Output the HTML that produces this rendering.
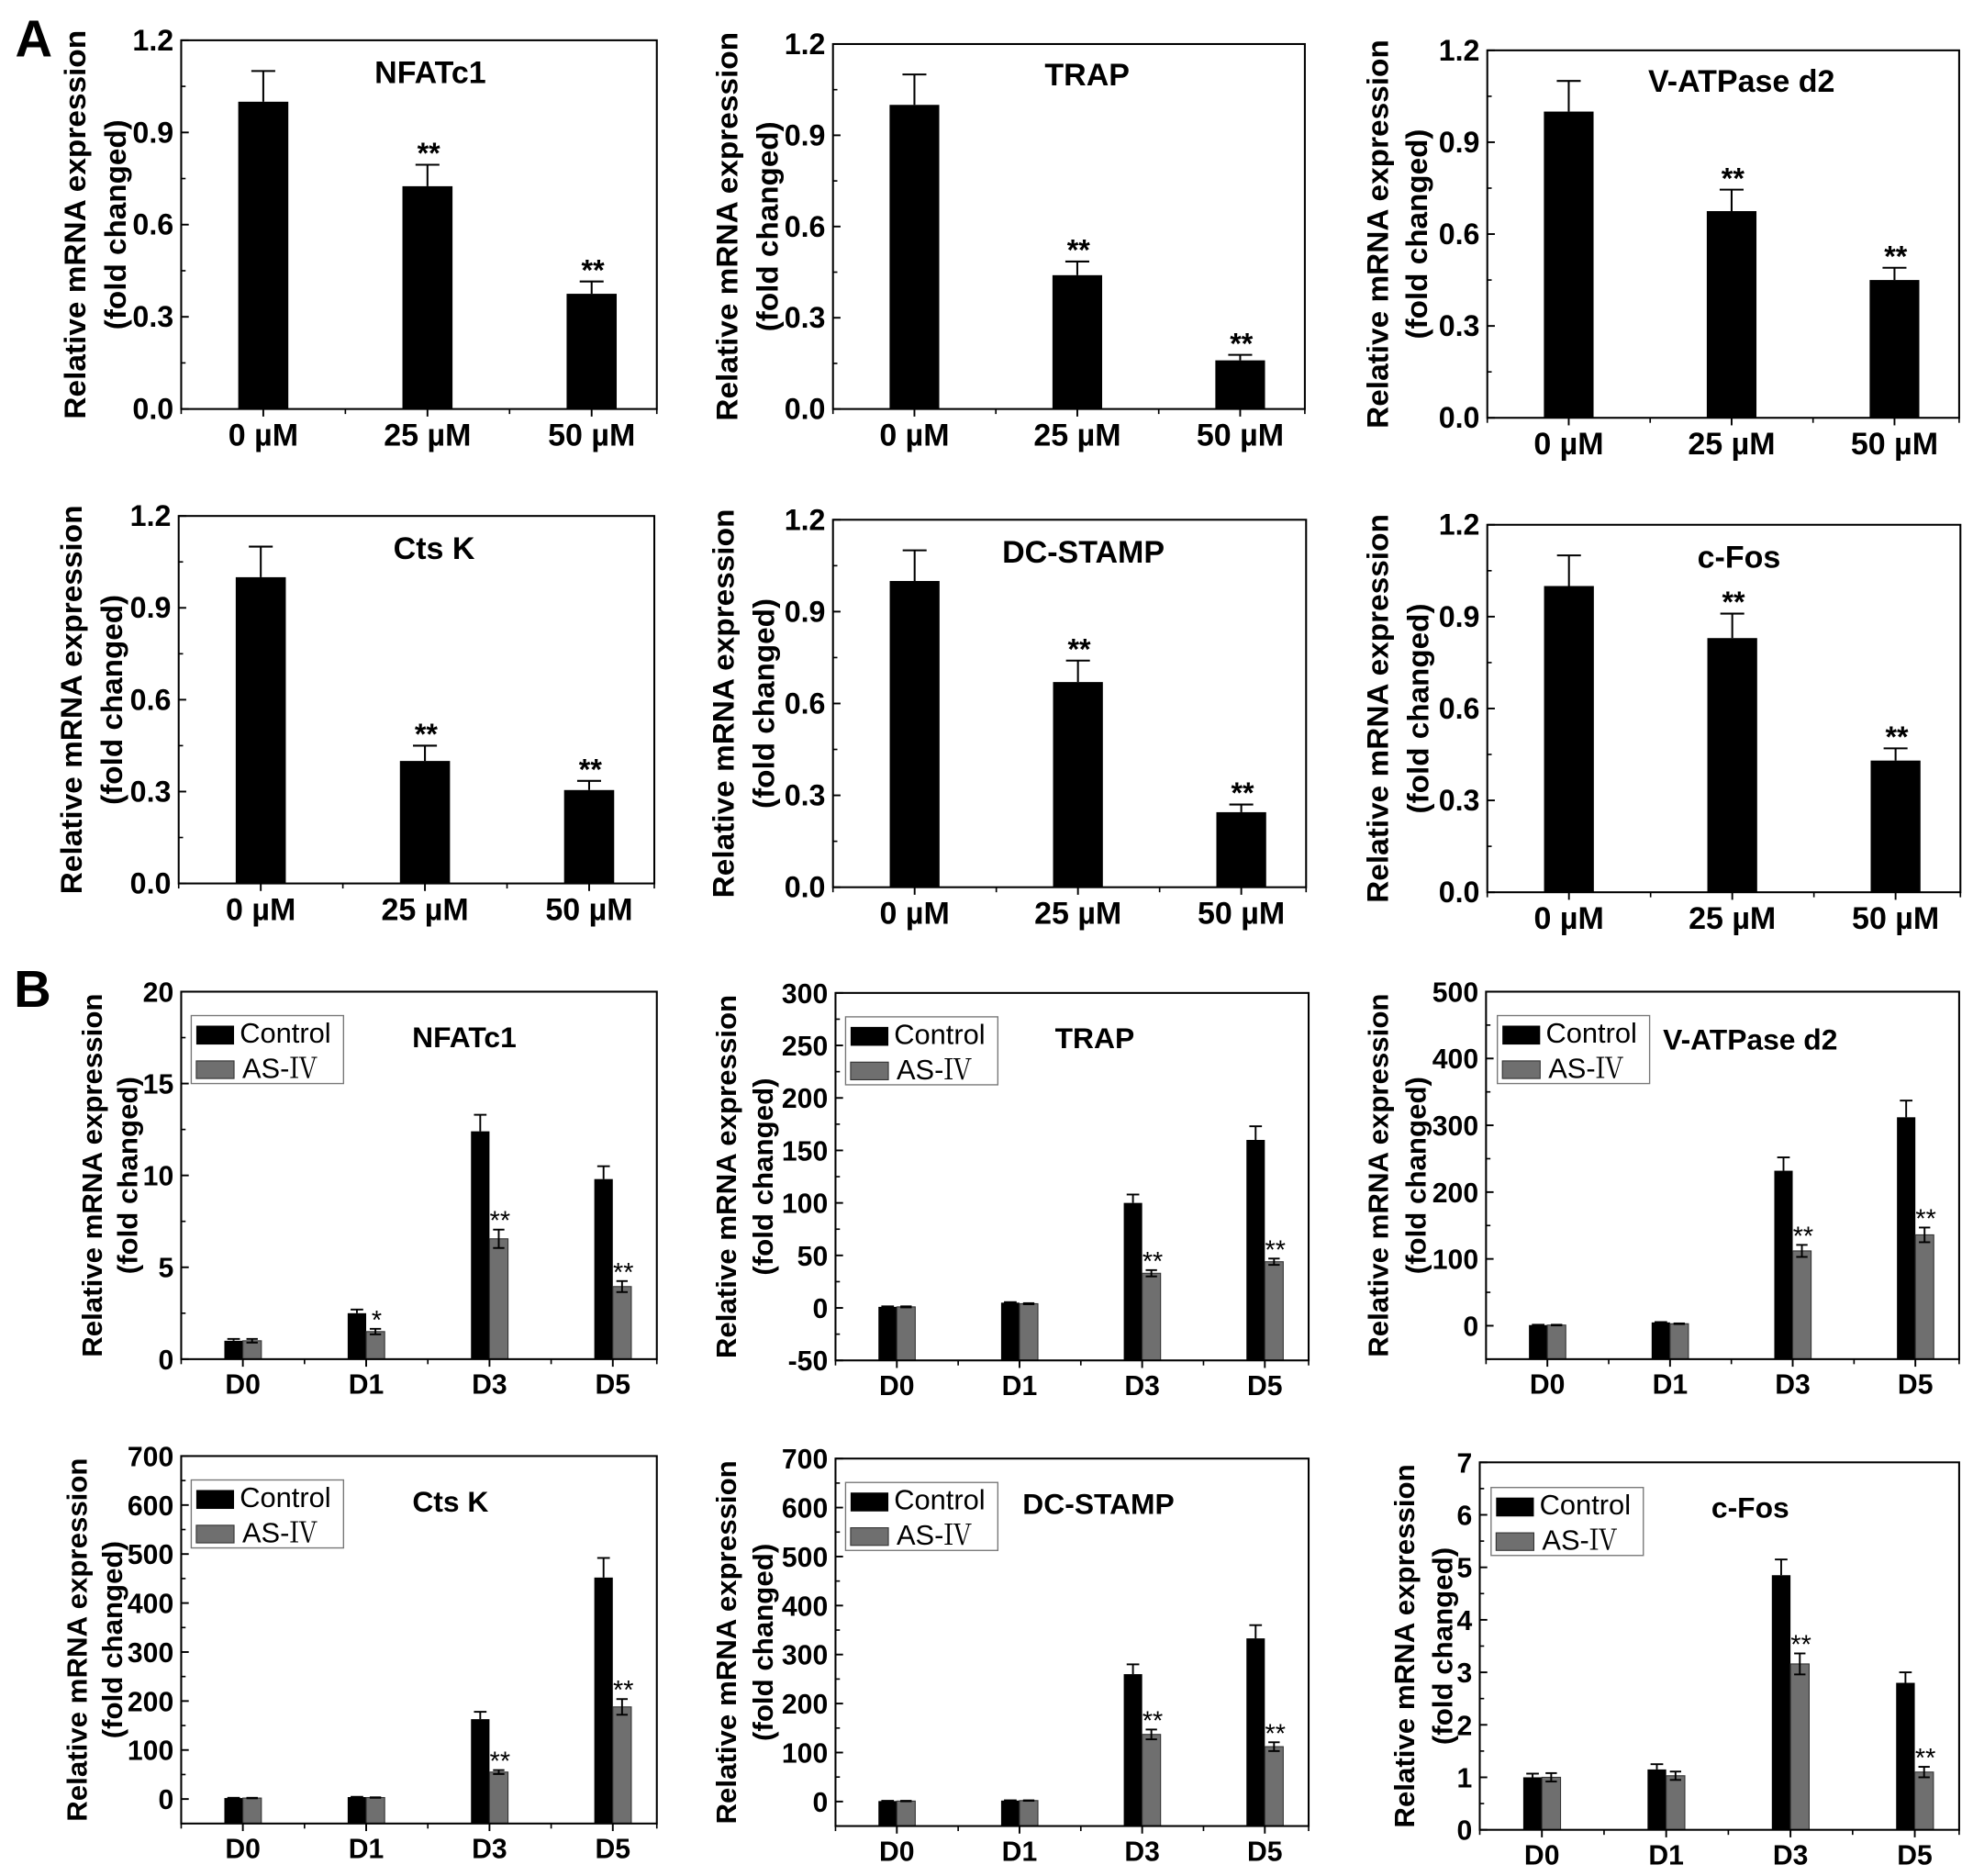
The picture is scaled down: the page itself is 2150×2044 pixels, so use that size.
<!DOCTYPE html>
<html lang="en">
<head>
<meta charset="utf-8">
<title>Relative mRNA expression panels</title>
<style>
html,body{margin:0;padding:0;background:#fff;}
svg{display:block;}
text{font-family:"Liberation Sans","Noto Serif CJK SC",sans-serif;fill:#000;}
</style>
</head>
<body>
<svg id="figure" xmlns="http://www.w3.org/2000/svg" width="2150" height="2044" viewBox="0 0 1568 1490.7"></svg>
<script>
// ---------- categories and axis labels ----------
const doseCategories = ['0 µM', '25 µM', '50 µM'];
const dayCategories = ['D0', 'D1', 'D3', 'D5'];
const doseTicks = [0, 0.3, 0.6, 0.9, 1.2];
const doseTickLabels = ['0.0', '0.3', '0.6', '0.9', '1.2'];
const b1Ticks = [0, 5, 10, 15, 20];
const b2Ticks = [-50, 0, 50, 100, 150, 200, 250, 300];
const b3Ticks = [0, 100, 200, 300, 400, 500];
const b4Ticks = [0, 100, 200, 300, 400, 500, 600, 700];
const b6Ticks = [0, 1, 2, 3, 4, 5, 6, 7];

// ---------- panel A values (dose response) ----------
const a1Values = [1.0, 0.725, 0.375];
const a1Errors = [0.1, 0.07, 0.04];
const a2Values = [1.0, 0.44, 0.16];
const a2Errors = [0.1, 0.045, 0.018];
const a3Values = [1.0, 0.675, 0.45];
const a3Errors = [0.1, 0.07, 0.04];
const a4Values = [1.0, 0.4, 0.305];
const a4Errors = [0.1, 0.05, 0.03];
const a5Values = [1.0, 0.67, 0.245];
const a5Errors = [0.1, 0.07, 0.025];
const a6Values = [1.0, 0.83, 0.43];
const a6Errors = [0.1, 0.08, 0.04];
const doseStars = ['', '**', '**'];

// ---------- panel B values (time course) ----------
const b1Control = [1.0, 2.5, 12.4, 9.8];
const b1ControlErr = [0.1, 0.2, 0.9, 0.7];
const b1Treated = [1.0, 1.5, 6.55, 3.95];
const b1TreatedErr = [0.1, 0.15, 0.5, 0.3];
const b1Stars = ['', '*', '**', '**'];
const b2Control = [1, 5, 100, 160];
const b2ControlErr = [0.5, 0.5, 8, 13];
const b2Treated = [1, 4, 33, 44];
const b2TreatedErr = [0.5, 0.5, 3, 3];
const b3Control = [1, 5, 232, 312];
const b3ControlErr = [0.5, 0.5, 20, 25];
const b3Treated = [1, 3, 112, 136];
const b3TreatedErr = [0.5, 0.5, 9, 11];
const b4Control = [2, 4, 163, 452];
const b4ControlErr = [0.5, 0.5, 15, 40];
const b4Treated = [2, 3, 55, 188];
const b4TreatedErr = [0.5, 0.5, 4, 16];
const b5Control = [1, 2, 260, 333];
const b5ControlErr = [0.5, 0.5, 20, 27];
const b5Treated = [1, 2, 137, 112];
const b5TreatedErr = [0.5, 0.5, 10, 9];
const b6Control = [1.0, 1.15, 4.85, 2.8];
const b6ControlErr = [0.07, 0.1, 0.3, 0.2];
const b6Treated = [1.0, 1.03, 3.16, 1.1];
const b6TreatedErr = [0.08, 0.08, 0.2, 0.1];
const dayStars = ['', '', '**', '**'];

// ---------- panel definitions ----------
const dosePanels = [
  {id: 'a1', title: 'NFATc1', values: a1Values, errors: a1Errors},
  {id: 'a2', title: 'TRAP', values: a2Values, errors: a2Errors},
  {id: 'a3', title: 'V-ATPase d2', values: a3Values, errors: a3Errors},
  {id: 'a4', title: 'Cts K', values: a4Values, errors: a4Errors},
  {id: 'a5', title: 'DC-STAMP', values: a5Values, errors: a5Errors},
  {id: 'a6', title: 'c-Fos', values: a6Values, errors: a6Errors}
];
const dayPanels = [
  {id: 'b1', title: 'NFATc1', ticks: b1Ticks, yMin: 0, yMax: 20, control: b1Control, controlErr: b1ControlErr, treated: b1Treated, treatedErr: b1TreatedErr, stars: b1Stars},
  {id: 'b2', title: 'TRAP', ticks: b2Ticks, yMin: -50, yMax: 300, control: b2Control, controlErr: b2ControlErr, treated: b2Treated, treatedErr: b2TreatedErr, stars: dayStars},
  {id: 'b3', title: 'V-ATPase d2', ticks: b3Ticks, yMin: -50, yMax: 500, control: b3Control, controlErr: b3ControlErr, treated: b3Treated, treatedErr: b3TreatedErr, stars: dayStars},
  {id: 'b4', title: 'Cts K', ticks: b4Ticks, yMin: -50, yMax: 700, control: b4Control, controlErr: b4ControlErr, treated: b4Treated, treatedErr: b4TreatedErr, stars: dayStars},
  {id: 'b5', title: 'DC-STAMP', ticks: b4Ticks, yMin: -50, yMax: 700, control: b5Control, controlErr: b5ControlErr, treated: b5Treated, treatedErr: b5TreatedErr, stars: dayStars},
  {id: 'b6', title: 'c-Fos', ticks: b6Ticks, yMin: 0, yMax: 7, control: b6Control, controlErr: b6ControlErr, treated: b6Treated, treatedErr: b6TreatedErr, stars: dayStars}
];

// ---------- page layout (frame, title, y-title, legend placement) ----------
const layout = {
  a1: {l: 144, r: 522, t: 32, b: 325, tx: 342, ty: 66, y1: 68, y2: 100},
  a2: {l: 662, r: 1037, t: 35, b: 325, tx: 864, ty: 68, y1: 586, y2: 618},
  a3: {l: 1182, r: 1557, t: 40, b: 332, tx: 1384, ty: 73, y1: 1103, y2: 1134},
  a4: {l: 142, r: 520, t: 410, b: 702, tx: 345, ty: 444, y1: 65, y2: 97},
  a5: {l: 662, r: 1038, t: 413, b: 705, tx: 861, ty: 447, y1: 583, y2: 615},
  a6: {l: 1182, r: 1558, t: 417, b: 709, tx: 1382, ty: 451, y1: 1103, y2: 1135},
  b1: {l: 144, r: 522, t: 788, b: 1080, tx: 369, ty: 832, y1: 81, y2: 109, lx: 152, ly: 807},
  b2: {l: 664, r: 1040, t: 789, b: 1081, tx: 870, ty: 833, y1: 585, y2: 614, lx: 672, ly: 808},
  b3: {l: 1181, r: 1557, t: 788, b: 1080, tx: 1391, ty: 834, y1: 1103, y2: 1133, lx: 1190, ly: 807},
  b4: {l: 144, r: 522, t: 1157, b: 1449, tx: 358, ty: 1201, y1: 69, y2: 97, lx: 152, ly: 1176},
  b5: {l: 664, r: 1040, t: 1159, b: 1451, tx: 873, ty: 1203, y1: 585, y2: 614, lx: 672, ly: 1178},
  b6: {l: 1176, r: 1557, t: 1162, b: 1454, tx: 1391, ty: 1206, y1: 1124, y2: 1154, lx: 1185, ly: 1182}
};

const NS = 'http://www.w3.org/2000/svg';
const figure = document.getElementById('figure');

function shape(parent, tag, props, content) {
  const node = document.createElementNS(NS, tag);
  for (const key in props) node.setAttribute(key, props[key]);
  if (content !== undefined) node.textContent = content;
  parent.appendChild(node);
  return node;
}
function linearScale(d0, d1, r0, r1) {
  return function (v) { return r0 + (v - d0) / (d1 - d0) * (r1 - r0); };
}

function drawFrameAndAxes(g, box, xScale, yScale, xCount, ticks, tickLabels, yMin, yMax, tickSize, catLabels, xBase, labelSize) {
  const frame = shape(g, 'rect', {x: box.l, y: box.t, width: box.r - box.l, height: box.b - box.t, fill: 'none', stroke: '#000', 'stroke-width': 1.5});
  
  

  ticks.forEach(function (v, i) {
    const y = yScale(v);
    const tick = shape(g, 'line', {x1: box.l, x2: box.l + 6, y1: y, y2: y, stroke: '#000', 'stroke-width': 1.4});
    
    
    const label = shape(g, 'text', {x: box.l - 6, y: y + 8, 'text-anchor': 'end', 'font-size': tickSize, 'font-weight': 700}, tickLabels[i]);
    
    
  });
  const step = ticks[1] - ticks[0];
  for (let m = ticks[0] - step / 2; m <= yMax; m += step) {
    if (m < yMin) continue;
    const y = yScale(m);
    const minor = shape(g, 'line', {x1: box.l, x2: box.l + 3.5, y1: y, y2: y, stroke: '#000', 'stroke-width': 1.2});
    
    
  }

  catLabels.forEach(function (name, i) {
    const x = xScale(i + 1);
    const tick = shape(g, 'line', {x1: x, x2: x, y1: box.b, y2: box.b + 6, stroke: '#000', 'stroke-width': 1.4});
    
    
    const label = shape(g, 'text', {x: x, y: box.b + xBase, 'text-anchor': 'middle', 'font-size': labelSize, 'font-weight': 700}, name);
    
    
  });
  for (let m = 0.5; m <= xCount + 0.5; m += 1) {
    const x = Math.min(xScale(m), box.r);
    const minor = shape(g, 'line', {x1: x, x2: x, y1: box.b, y2: box.b + 4, stroke: '#000', 'stroke-width': 1.2});
    
    
  }
}

function drawYTitle(g, box, size, len1, len2) {
  const cy = (box.t + box.b) / 2;
  const line1 = shape(g, 'text', {transform: 'translate(' + box.y1 + ',' + cy + ') rotate(-90)', 'text-anchor': 'middle', 'font-size': size, 'font-weight': 700, textLength: len1, lengthAdjust: 'spacingAndGlyphs'}, 'Relative mRNA expression');
  
  
  const line2 = shape(g, 'text', {transform: 'translate(' + box.y2 + ',' + cy + ') rotate(-90)', 'text-anchor': 'middle', 'font-size': size, 'font-weight': 700, textLength: len2, lengthAdjust: 'spacingAndGlyphs'}, '(fold changed)');
  
  
}

function drawErrorBar(g, x, top, base, capHalf, width) {
  const stem = shape(g, 'line', {x1: x, x2: x, y1: base, y2: top, stroke: '#000', 'stroke-width': width});
  
  
  const cap = shape(g, 'line', {x1: x - capHalf, x2: x + capHalf, y1: top, y2: top, stroke: '#000', 'stroke-width': width});
  
  
}

// ---------- dose-response panels ----------
dosePanels.forEach(function (panel) {
  const box = layout[panel.id];
  const g = shape(figure, 'g', {});
  
  

  const xScale = linearScale(0.5, 3.397, box.l, box.r);
  const yScale = linearScale(0, 1.2, box.b, box.t);
  const barW = (xScale(2) - xScale(1)) * 0.305;

  panel.values.forEach(function (v, i) {
    const cx = xScale(i + 1);
    const topErr = yScale(v + panel.errors[i]);
    drawErrorBar(g, cx, topErr, yScale(v), 9.5, 1.5);
    const bar = shape(g, 'rect', {x: cx - barW / 2, y: yScale(v), width: barW, height: yScale(0) - yScale(v), fill: '#000'});
    
    
    if (doseStars[i]) {
      const star = shape(g, 'text', {x: cx + 1, y: topErr - 1, 'text-anchor': 'middle', 'font-size': 23.5, 'font-weight': 700}, doseStars[i]);
      
      
    }
  });

  drawFrameAndAxes(g, box, xScale, yScale, 3, doseTicks, doseTickLabels, 0, 1.2, 23.5, doseCategories, 29, 24.8);
  drawYTitle(g, box, 23.5, 309, 167);
  const title = shape(g, 'text', {x: box.tx, y: box.ty, 'text-anchor': 'middle', 'font-size': 24.8, 'font-weight': 700}, panel.title);
  
  
});

// ---------- time-course panels ----------
dayPanels.forEach(function (panel) {
  const box = layout[panel.id];
  const g = shape(figure, 'g', {});
  
  

  const xScale = linearScale(0.5, 4.357, box.l, box.r);
  const yScale = linearScale(panel.yMin, panel.yMax, box.b, box.t);
  const barW = (xScale(2) - xScale(1)) * 0.15;
  const floor = yScale(panel.yMin);

  dayCategories.forEach(function (name, i) {
    const cx = xScale(i + 1);
    const c = panel.control[i];
    const t = panel.treated[i];
    const cTop = yScale(c + panel.controlErr[i]);
    const tTop = yScale(t + panel.treatedErr[i]);

    drawErrorBar(g, cx - barW / 2, cTop, yScale(c), 5, 1.4);
    const controlBar = shape(g, 'rect', {x: cx - barW, y: yScale(c), width: barW, height: floor - yScale(c), fill: '#000'});
    
    

    const treatedBar = shape(g, 'rect', {x: cx, y: yScale(t), width: barW, height: floor - yScale(t), fill: '#6f6f6f', stroke: '#333', 'stroke-width': 0.8});
    
    
    drawErrorBar(g, cx + barW / 2, tTop, yScale(t - panel.treatedErr[i]), 4.5, 1.4);
    const lowCap = shape(g, 'line', {x1: cx + barW / 2 - 4.5, x2: cx + barW / 2 + 4.5, y1: yScale(t - panel.treatedErr[i]), y2: yScale(t - panel.treatedErr[i]), stroke: '#000', 'stroke-width': 1.4});
    
    

    if (panel.stars[i]) {
      const star = shape(g, 'text', {x: cx + barW / 2 + 1, y: tTop, 'text-anchor': 'middle', 'font-size': 21}, panel.stars[i]);
      
      
    }
  });

  drawFrameAndAxes(g, box, xScale, yScale, 4, panel.ticks, panel.ticks.map(String), panel.yMin, panel.yMax, 22, dayCategories, 27.5, 22);
  drawYTitle(g, box, 22, 289, 157);
  const title = shape(g, 'text', {x: box.tx, y: box.ty, 'text-anchor': 'middle', 'font-size': 23.2, 'font-weight': 700}, panel.title);
  
  

  // legend
  const legend = shape(g, 'g', {transform: 'translate(' + box.lx + ',' + box.ly + ')'});
  
  
  const legendBox = shape(legend, 'rect', {x: 0, y: 0, width: 121, height: 54, fill: '#fff', stroke: '#777', 'stroke-width': 1});
  
  
  const swatchA = shape(legend, 'rect', {x: 4, y: 8, width: 30, height: 15, fill: '#000'});
  
  
  const labelA = shape(legend, 'text', {x: 38.5, y: 21.5, 'font-size': 22.5}, 'Control');
  
  
  const swatchB = shape(legend, 'rect', {x: 4, y: 36, width: 30, height: 14, fill: '#6f6f6f', stroke: '#333', 'stroke-width': 0.8});
  
  
  const labelB = shape(legend, 'text', {x: 40.5, y: 49.5, 'font-size': 22.5}, 'AS-Ⅳ');
  
  
});

// ---------- section letters ----------
const letterA = shape(figure, 'text', {x: 12, y: 45, 'font-size': 41, 'font-weight': 700}, 'A');


const letterB = shape(figure, 'text', {x: 11, y: 800, 'font-size': 41, 'font-weight': 700}, 'B');


</script>
</body>
</html>
